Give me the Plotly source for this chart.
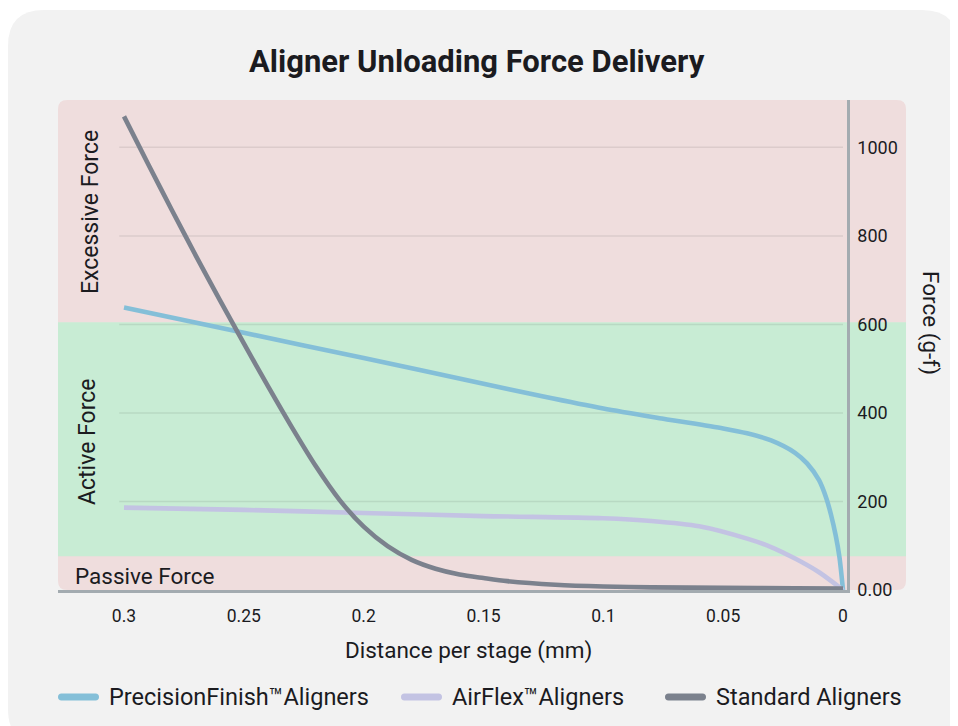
import plotly.graph_objects as go

# ---------------- data ----------------
precision_x = [0.3, 0.25, 0.2, 0.15, 0.125, 0.1, 0.075, 0.05, 0.04, 0.03, 0.02, 0.015, 0.01, 0.007, 0.005, 0.003, 0.0015, 0.0]
precision_y = [638, 581, 524, 466, 437, 410, 387, 365, 354, 338, 310, 286, 248, 208, 170, 122, 75, 0]

airflex_x = [0.3, 0.25, 0.2, 0.15, 0.1, 0.08, 0.06, 0.04, 0.03, 0.02, 0.01, 0.0]
airflex_y = [186, 181, 174, 167, 162, 156, 144, 116, 97, 71, 40, 0]

standard_x = [0.3, 0.29, 0.28, 0.27, 0.26, 0.25, 0.24, 0.23, 0.22, 0.21, 0.2, 0.19, 0.18, 0.17, 0.16, 0.15, 0.14, 0.12, 0.1, 0.08, 0.05, 0.02, 0.0]
standard_y = [1070, 963, 858, 755, 655, 557, 461, 368, 280, 203, 143, 99, 68, 48, 35, 27, 20, 12, 8, 6, 5, 4, 3]

series_names = ["PrecisionFinish™Aligners", "AirFlex™Aligners", "Standard Aligners"]
series_colors = ["#84bfd8", "#c3c3e3", "#7b818d"]

x_tickvals = [0.3, 0.25, 0.2, 0.15, 0.1, 0.05, 0.0]
x_ticktext = ["0.3", "0.25", "0.2", "0.15", "0.1", "0.05", "0"]
y_tickvals = [0, 200, 400, 600, 800, 1000]
y_ticktext = ["0.00", "200", "400", "600", "800", "1000"]

zones = [("Passive Force", 0, 76), ("Active Force", 76, 605), ("Excessive Force", 605, 1107)]

# ---------------- layout helpers (positions given in window pixels) ----------------
OFF = 8                      # page body margin
W, H = 950, 718
L, R, T, B = 50, 111, 92, 136
PW, PH = W - L - R, H - T - B


def px(xp):
    return (xp - OFF - L) / PW


def py(yp):
    return (H - B - (yp - OFF)) / PH


def rounded_rect(x0, y0, x1, y1, r):
    def P(a, b):
        return f"{px(a):.5f},{py(b):.5f}"
    return (f"M{P(x0 + r, y0)} L{P(x1 - r, y0)} Q{P(x1, y0)} {P(x1, y0 + r)} "
            f"L{P(x1, y1 - r)} Q{P(x1, y1)} {P(x1 - r, y1)} "
            f"L{P(x0 + r, y1)} Q{P(x0, y1)} {P(x0, y1 - r)} "
            f"L{P(x0, y0 + r)} Q{P(x0, y0)} {P(x0 + r, y0)} Z")


FONT = "Roboto, Inter, sans-serif"
TXT = "#1b1b1f"

fig = go.Figure()

for name, xs, ys, col in zip(series_names, [precision_x, airflex_x, standard_x],
                             [precision_y, airflex_y, standard_y], series_colors):
    fig.add_trace(go.Scatter(x=xs, y=ys, mode="lines", name=name, showlegend=False,
                             line=dict(color=col, width=4.6, shape="spline", smoothing=0.8),
                             hoverinfo="skip"))

shapes = []
shapes.append(dict(type="path", xref="paper", yref="paper", layer="below",
                   path=rounded_rect(8, 10, 958, 745, 36), fillcolor="#f2f2f2", line=dict(width=0)))
shapes.append(dict(type="path", xref="paper", yref="paper", layer="below",
                   path=rounded_rect(58, 100, 906, 590, 9), fillcolor="#efdddd", line=dict(width=0)))
shapes.append(dict(type="rect", xref="paper", yref="y", layer="below",
                   x0=px(58), x1=px(906), y0=zones[1][1], y1=zones[1][2],
                   fillcolor="#c8ecd4", line=dict(width=0)))
for v in y_tickvals[1:]:
    shapes.append(dict(type="line", xref="x", yref="y", layer="below",
                       x0=0.302, x1=0.0, y0=v, y1=v,
                       line=dict(color="rgba(0,0,0,0.08)", width=1.5)))

annotations = [
    dict(text="<b>Aligner Unloading Force Delivery</b>", x=px(477), y=py(62),
         font=dict(size=31, color=TXT, family=FONT)),
    dict(text=zones[2][0], x=px(90), y=py(212), textangle=-90,
         font=dict(size=23, color=TXT, family=FONT)),
    dict(text=zones[1][0], x=px(88), y=py(442), textangle=-90,
         font=dict(size=23, color=TXT, family=FONT)),
    dict(text=zones[0][0], x=px(73), y=py(576), xanchor="left",
         font=dict(size=22.5, color=TXT, family=FONT)),
    dict(text="Force (g-f)", x=px(931), y=py(323), textangle=90,
         font=dict(size=22.5, color=TXT, family=FONT)),
    dict(text="Distance per stage (mm)", x=px(468), y=py(650),
         font=dict(size=22.5, color=TXT, family=FONT)),
]

# manual legend
legend_sym_x = [58, 401, 665]
for name, col, sx in zip(series_names, series_colors, legend_sym_x):
    shapes.append(dict(type="path", xref="paper", yref="paper", layer="above",
                       path=rounded_rect(sx, 693.5, sx + 41, 700.5, 3.5),
                       fillcolor=col, line=dict(width=0)))
    annotations.append(dict(text=name, x=px(sx + 49), y=py(697), xanchor="left",
                            font=dict(size=23.5, color=TXT, family=FONT)))

for a in annotations:
    a.setdefault("xref", "paper")
    a.setdefault("yref", "paper")
    a.setdefault("showarrow", False)
    a.setdefault("xanchor", "center")
    a.setdefault("yanchor", "middle")

fig.update_layout(
    width=W, height=H,
    margin=dict(l=L, r=R, t=T, b=B),
    paper_bgcolor="white", plot_bgcolor="rgba(0,0,0,0)",
    shapes=shapes, annotations=annotations,
    showlegend=False,
    xaxis=dict(range=[0.32754, -0.00167], tickvals=x_tickvals, ticktext=x_ticktext,
               showgrid=False, zeroline=False, showline=True, linecolor="#a3abb0", linewidth=2.5,
               ticks="", ticklabelstandoff=8, tickfont=dict(size=17.5, color=TXT, family=FONT),
               fixedrange=True),
    yaxis=dict(range=[0, 1107], side="right", tickvals=y_tickvals, ticktext=y_ticktext,
               showgrid=False, zeroline=False, showline=True, linecolor="#a3abb0", linewidth=2.5,
               ticks="", ticklabelstandoff=4, tickfont=dict(size=18, color=TXT, family=FONT),
               fixedrange=True),
)

fig.write_html("out.html")
